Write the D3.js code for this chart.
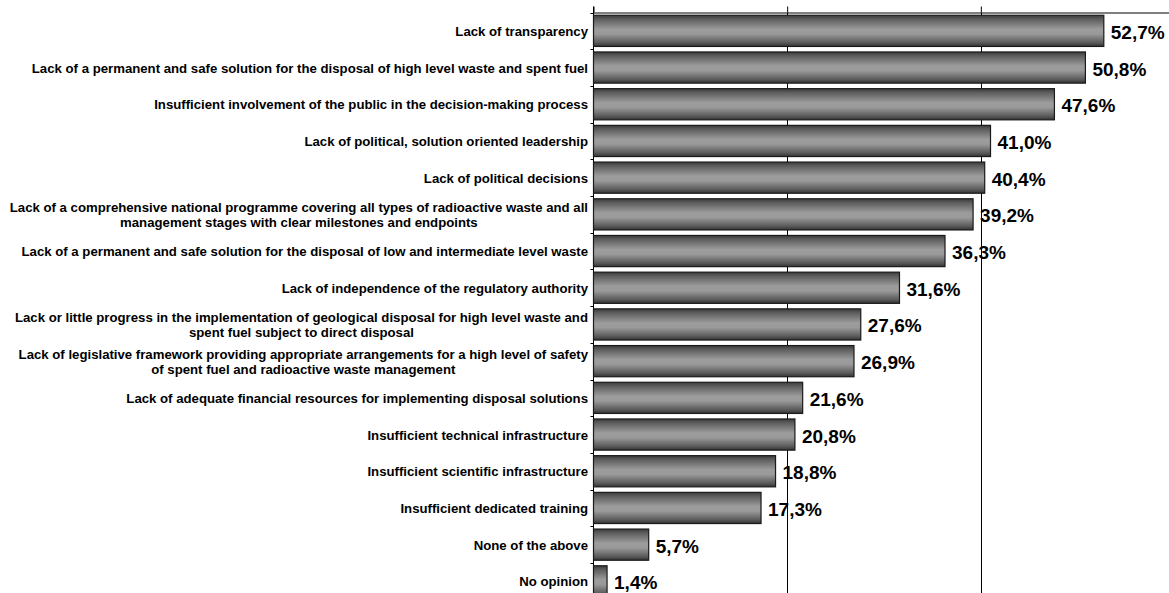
<!DOCTYPE html>
<html>
<head>
<meta charset="utf-8">
<script src="https://cdn.jsdelivr.net/npm/d3@7"></script>
<style>
  html, body { margin: 0; padding: 0; background: #fff; }
  svg { display: block; font-family: "Liberation Sans", Arial, sans-serif; }
</style>
</head>
<body>
<svg id="chart" width="1169" height="593"></svg>
<script>
// Survey responses: perceived shortcomings in radioactive waste management (% of respondents)
const categories = [
  "Lack of transparency",
  "Lack of a permanent and safe solution for the disposal of high level waste and spent fuel",
  "Insufficient involvement of the public in the decision-making process",
  "Lack of political, solution oriented leadership",
  "Lack of political decisions",
  "Lack of a comprehensive national programme covering all types of radioactive waste and all\nmanagement stages with clear milestones and endpoints",
  "Lack of a permanent and safe solution for the disposal of low and intermediate level waste",
  "Lack of independence of the regulatory authority",
  "Lack or little progress in the implementation of geological disposal for high level waste and\nspent fuel subject to direct disposal",
  "Lack of legislative framework providing appropriate arrangements for a high level of safety\nof spent fuel and radioactive waste management",
  "Lack of adequate financial resources for implementing disposal solutions",
  "Insufficient technical infrastructure",
  "Insufficient scientific infrastructure",
  "Insufficient dedicated training",
  "None of the above",
  "No opinion"
];
const values = [52.7, 50.8, 47.6, 41.0, 40.4, 39.2, 36.3, 31.6, 27.6, 26.9, 21.6, 20.8, 18.8, 17.3, 5.7, 1.4];
const xTicks = [0, 20, 40, 60];
const gridValues = [20, 40];

const svg = d3.select("#chart");
const W = 1169, H = 593;
const plotLeft = 593.5, plotTop = 12.5;

const x = d3.scaleLinear().domain([0, 60]).range([plotLeft, 1174.5]);
const y = d3.scaleBand().domain(categories).range([plotTop, plotTop + 16 * 36.7])
  .paddingInner(0.15).paddingOuter(0.075);
const step = y.step();

const fmt = v => d3.format(".1f")(v).replace(".", ",") + "%";

// vertical bar shading
const defs = svg.append("defs");
const grad = defs.append("linearGradient").attr("id", "barShade")
  .attr("x1", 0).attr("y1", 0).attr("x2", 0).attr("y2", 1);
[[0, "#3a3a3a"], [0.12, "#5c5c5c"], [0.45, "#9c9c9c"], [0.6, "#9a9a9a"], [0.88, "#5a5a5a"], [1, "#333"]]
  .forEach(([o, c]) => grad.append("stop").attr("offset", o).attr("stop-color", c));

// gridlines
svg.append("g").selectAll("line").data(gridValues).join("line")
  .attr("x1", d => Math.round(x(d)) + 0.5).attr("x2", d => Math.round(x(d)) + 0.5)
  .attr("y1", plotTop).attr("y2", H)
  .attr("stroke", "#000").attr("stroke-width", 1);

// top axis
const topAxis = svg.append("g").attr("transform", `translate(0,${plotTop})`)
  .call(d3.axisTop(x).tickValues(xTicks).tickSize(6).tickFormat("").tickSizeOuter(0));
topAxis.select(".domain").attr("stroke", "#000");
topAxis.selectAll(".tick line").attr("stroke", "#000");

// left axis with ticks on category boundaries
const leftAxis = svg.append("g");
leftAxis.append("line")
  .attr("x1", plotLeft).attr("x2", plotLeft).attr("y1", plotTop - 6).attr("y2", H)
  .attr("stroke", "#000");
leftAxis.selectAll("line.bt").data(d3.range(categories.length + 1)).join("line")
  .attr("class", "bt")
  .attr("x1", plotLeft - 3).attr("x2", plotLeft)
  .attr("y1", i => Math.round(plotTop + i * step) + 0.5)
  .attr("y2", i => Math.round(plotTop + i * step) + 0.5)
  .attr("stroke", "#000");

// bars
svg.append("g").selectAll("rect").data(values).join("rect")
  .attr("x", plotLeft)
  .attr("y", (d, i) => y(categories[i]))
  .attr("width", d => x(d) - plotLeft)
  .attr("height", y.bandwidth())
  .attr("fill", "url(#barShade)")
  .attr("stroke", "#1a1a1a").attr("stroke-width", 1.2);

// value labels
svg.append("g").selectAll("text").data(values).join("text")
  .attr("x", d => x(d) + 7)
  .attr("y", (d, i) => y(categories[i]) + y.bandwidth() / 2 + 1.5)
  .attr("dominant-baseline", "central")
  .attr("font-size", 19).attr("font-weight", "bold").attr("fill", "#000")
  .text(fmt);

// category labels: right-aligned block, lines centred within it
const labelRight = 588;
const lineH = 15;
const labG = svg.append("g");
categories.forEach(c => {
  const lines = c.split("\n");
  const cy = y(c) + y.bandwidth() / 2;
  const t = labG.append("text")
    .attr("font-size", 13.2).attr("font-weight", "bold").attr("fill", "#000")
    .attr("dominant-baseline", "central");
  const spans = lines.map((ln, k) => t.append("tspan")
    .attr("y", cy + (k - (lines.length - 1) / 2) * lineH).text(ln));
  const widths = spans.map(s => s.node().getComputedTextLength());
  const maxW = d3.max(widths);
  if (lines.length === 1) {
    t.attr("text-anchor", "end");
    spans[0].attr("x", labelRight);
  } else {
    t.attr("text-anchor", "middle");
    spans.forEach(s => s.attr("x", labelRight - maxW / 2));
  }
});
</script>
</body>
</html>
